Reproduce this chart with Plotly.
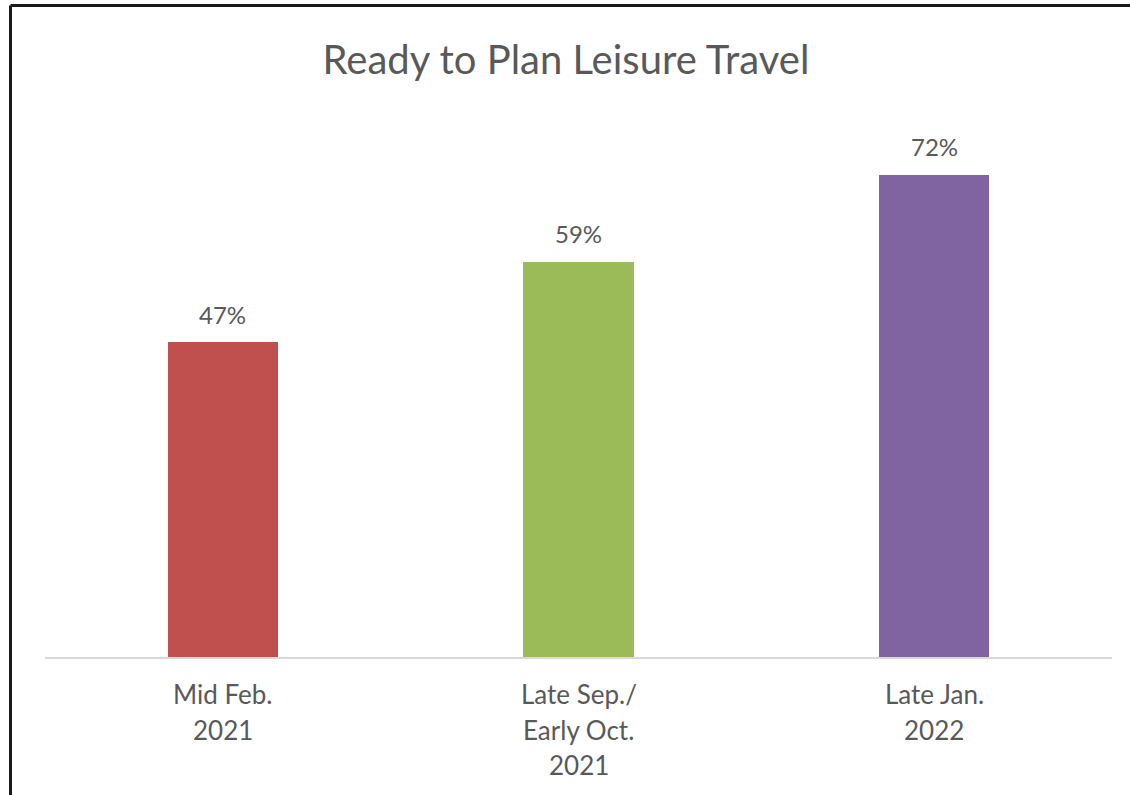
import plotly.graph_objects as go

# Survey waves and share of respondents ready to plan leisure travel
categories = ["Mid Feb. 2021", "Late Sep./ Early Oct. 2021", "Late Jan. 2022"]
tick_lines = [["Mid Feb.", "2021"], ["Late Sep./", "Early Oct.", "2021"], ["Late Jan.", "2022"]]
values = [47, 59, 72]
colors = ["#C0504D", "#9BBB59", "#8064A2"]

TEXT = "#595959"
FONT = "Lato"

W, H = 1130, 795
L, R, T, B = 45, 18, 121, 138
plot_w = W - L - R
plot_h = H - T - B

fig = go.Figure(
    go.Bar(
        x=categories,
        y=values,
        marker=dict(color=colors, line=dict(width=0)),
        width=0.31,
        hoverinfo="skip",
    )
)

annotations = []
# value labels above bars
for c, v in zip(categories, values):
    annotations.append(dict(
        x=c, y=v, xref="x", yref="y", text=f"{v}%", showarrow=False,
        yanchor="middle", yshift=28,
        font=dict(family=FONT, size=24, color=TEXT),
    ))
# multi-line category labels under the axis
for c, lines in zip(categories, tick_lines):
    for i, line in enumerate(lines):
        annotations.append(dict(
            x=c, y=0, xref="x", yref="y", text=line, showarrow=False,
            yanchor="middle", yshift=-37 - 35.5 * i,
            font=dict(family=FONT, size=26, color=TEXT),
        ))

# chart frame (top and left edges visible)
fx = (10.5 - L) / plot_w
fy = (H - B - 5.5) / plot_h
shapes = [
    dict(type="line", xref="paper", yref="paper", x0=fx, x1=fx, y0=-0.5, y1=fy,
         line=dict(color="#1a1a1a", width=3)),
    dict(type="line", xref="paper", yref="paper", x0=fx, x1=1.2, y0=fy, y1=fy,
         line=dict(color="#1a1a1a", width=3)),
]

fig.update_layout(
    width=W, height=H,
    margin=dict(l=L, r=R, t=T, b=B, pad=0),
    paper_bgcolor="white", plot_bgcolor="white",
    title=dict(
        text="Ready to Plan Leisure Travel",
        x=566 / W, xref="container", xanchor="center",
        y=1 - 60 / H, yref="container", yanchor="middle",
        font=dict(family=FONT, size=40, color=TEXT),
    ),
    xaxis=dict(
        showticklabels=False, ticks="", showgrid=False, zeroline=False,
        showline=True, linecolor="#D9D9D9", linewidth=1.5,
    ),
    yaxis=dict(range=[0, 80], visible=False, showgrid=False, zeroline=False),
    annotations=annotations,
    shapes=shapes,
    showlegend=False,
    bargap=0,
)

fig.write_html("out.html")
